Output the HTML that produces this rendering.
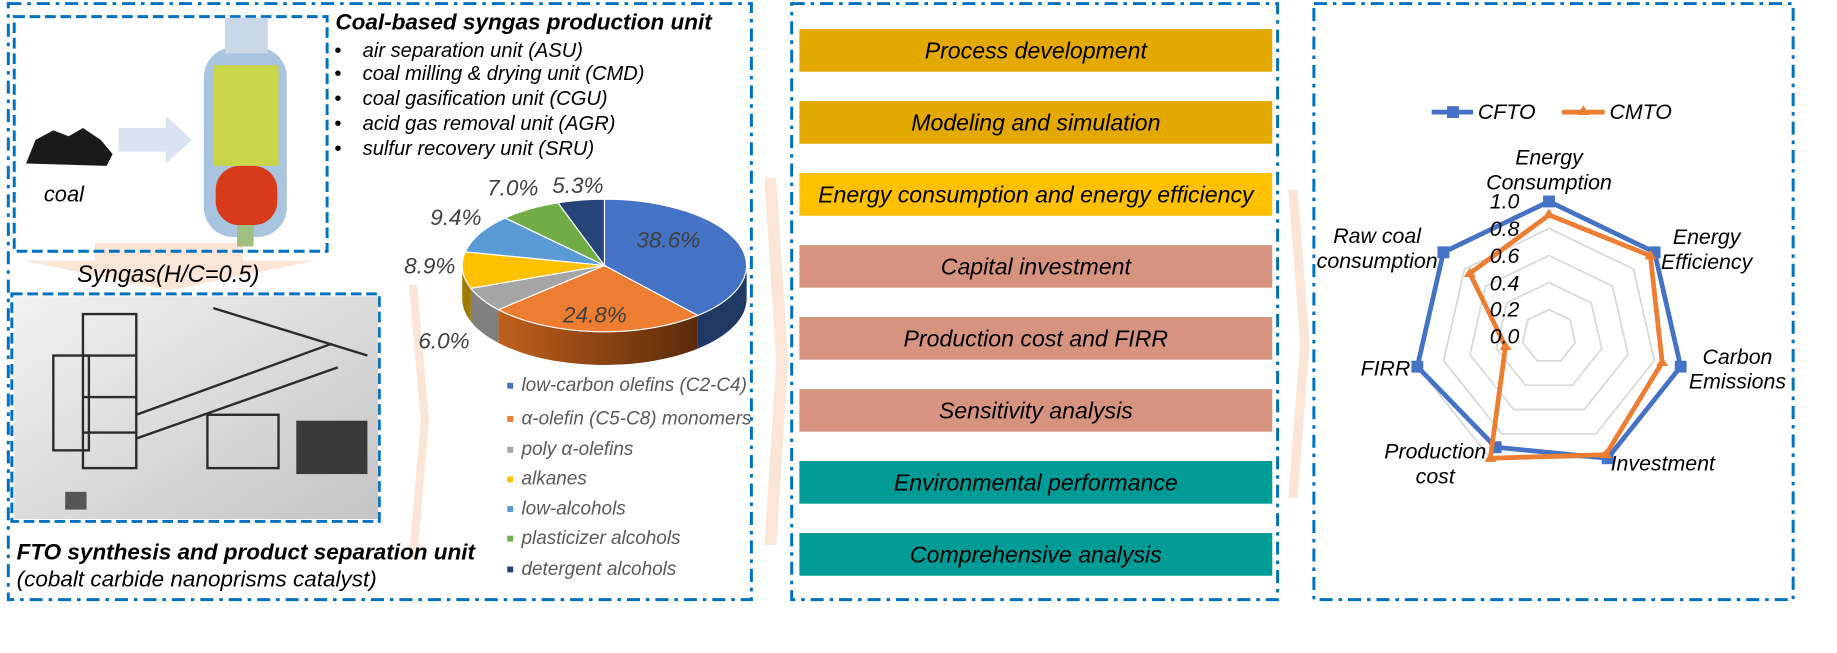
<!DOCTYPE html>
<html><head><meta charset="utf-8"><style>
html,body{margin:0;padding:0;background:#fff;overflow:hidden}
#wrap{width:1550px;height:551px;transform:scale(1.18516,1.1851);transform-origin:0 0;position:relative}
svg text{font-family:"Liberation Sans",sans-serif;font-style:italic}
</style></head><body><div id="wrap">
<svg width="1550" height="551" viewBox="0 0 1550 551" xmlns="http://www.w3.org/2000/svg">
<defs>
<linearGradient id="pg" x1="0" y1="0" x2="1" y2="1"><stop offset="0" stop-color="#f2f2f2"/><stop offset="1" stop-color="#c4c4c4"/></linearGradient>
<linearGradient id="og" x1="0" x2="1"><stop offset="0" stop-color="#c0601c"/><stop offset="1" stop-color="#5a2a0a"/></linearGradient>
</defs>
<!-- peach arrows -->
<polygon points="345,240 352,240 362,355 352,470 345,470 355,355" fill="#fbe5d6"/>
<polygon points="645,150 655,150 665,305 655,460 645,460 655,305" fill="#fbe5d6"/>
<polygon points="1087,160 1095,160 1105,290 1095,420 1087,420 1097,290" fill="#fbe5d6"/>
<polygon points="80,205 205,205 205,220 265,220 143,245 20,220 80,220" fill="#fbe5d6"/>
<!-- panel borders -->
<g fill="none" stroke="#0070C0" stroke-width="2.5" stroke-dasharray="11 5 3 5">
<rect x="7" y="3" width="627" height="503"/>
<rect x="668" y="3" width="410" height="503"/>
<rect x="1108.6" y="3" width="404.4" height="503"/>
</g>
<g fill="none" stroke="#0070C0" stroke-width="2.5" stroke-dasharray="9 4">
<rect x="12" y="14" width="264" height="198"/>
<rect x="10" y="248" width="310" height="192"/>
</g>
<!-- coal + gasifier -->
<path d="M22,138 L30,118 L45,110 L58,115 L70,108 L85,118 L95,130 L90,140 Z" fill="#1a1a1a"/>
<polygon points="100,108 140,108 140,98 162,118 140,138 140,128 100,128" fill="#dae3f3"/>
<text x="37" y="170" font-size="18.5">coal</text>
<rect x="172" y="40" width="70" height="160" rx="25" fill="#a9c4df"/>
<rect x="190" y="15" width="36" height="30" fill="#c8d8e8"/>
<rect x="180" y="55" width="55" height="85" fill="#c9d64a"/>
<rect x="182" y="140" width="52" height="50" rx="20" fill="#d83a1a"/>
<rect x="200" y="190" width="14" height="18" fill="#9fbf80"/>
<!-- plant -->
<rect x="12" y="250" width="307" height="188" fill="url(#pg)"/>
<g stroke="#2b2b2b" stroke-width="2" fill="none">
<rect x="70" y="265" width="45" height="130"/><line x1="70" y1="300" x2="115" y2="300"/><line x1="70" y1="335" x2="115" y2="335"/><line x1="70" y1="365" x2="115" y2="365"/>
<rect x="45" y="300" width="30" height="80"/>
<line x1="115" y1="350" x2="280" y2="290"/><line x1="115" y1="370" x2="285" y2="310"/>
<line x1="180" y1="260" x2="310" y2="300"/>
<rect x="175" y="350" width="60" height="45"/>
</g>
<rect x="250" y="355" width="60" height="45" fill="#3a3a3a"/>
<rect x="55" y="415" width="18" height="15" fill="#555"/>
<!-- texts panel1 -->
<text x="283" y="25" font-size="19" font-weight="bold">Coal-based syngas production unit</text>
<g font-size="17">
<text x="282" y="48" font-style="normal">•</text><text x="306" y="48">air separation unit (ASU)</text>
<text x="282" y="67.5" font-style="normal">•</text><text x="306" y="67.5">coal milling &amp; drying unit (CMD)</text>
<text x="282" y="88.6" font-style="normal">•</text><text x="306" y="88.6">coal gasification unit (CGU)</text>
<text x="282" y="109.7" font-style="normal">•</text><text x="306" y="109.7">acid gas removal unit (AGR)</text>
<text x="282" y="130.8" font-style="normal">•</text><text x="306" y="130.8">sulfur recovery unit (SRU)</text>
</g>
<text x="65" y="238" font-size="20">Syngas(H/C=0.5)</text>
<text x="14" y="472" font-size="19" font-weight="bold">FTO synthesis and product separation unit</text>
<text x="14" y="495" font-size="19">(cobalt carbide nanoprisms catalyst)</text>
<!-- pie -->
<path d="M630,224 A120,56 0 0 1 588.8,266.2 L588.8,294.2 A120,56 0 0 0 630,252 Z" fill="#1f3864"/>
<path d="M588.8,266.2 A120,56 0 0 1 420.5,261.3 L420.5,289.3 A120,56 0 0 0 588.8,294.2 Z" fill="url(#og)"/>
<path d="M420.5,261.3 A120,56 0 0 1 397.3,243.3 L397.3,271.3 A120,56 0 0 0 420.5,289.3 Z" fill="#7f7f7f"/>
<path d="M397.3,243.3 A120,56 0 0 1 390,224 L390,252 A120,56 0 0 0 397.3,271.3 Z" fill="#a07a00"/>
<g stroke="#fff" stroke-width="1">
<path d="M510,224 L510,168 A120,56 0 0 1 588.8,266.2 Z" fill="#4472c4"/>
<path d="M510,224 L588.8,266.2 A120,56 0 0 1 420.5,261.3 Z" fill="#ed7d31"/>
<path d="M510,224 L420.5,261.3 A120,56 0 0 1 397.3,243.3 Z" fill="#a5a5a5"/>
<path d="M510,224 L397.3,243.3 A120,56 0 0 1 392.6,212.5 Z" fill="#ffc000"/>
<path d="M510,224 L392.6,212.5 A120,56 0 0 1 426.2,183.9 Z" fill="#5b9bd5"/>
<path d="M510,224 L426.2,183.9 A120,56 0 0 1 470.8,171.1 Z" fill="#70ad47"/>
<path d="M510,224 L470.8,171.1 A120,56 0 0 1 510,168 Z" fill="#264478"/>
</g>
<g font-size="19" fill="#404040">
<text x="537" y="209">38.6%</text><text x="475" y="272">24.8%</text>
<text x="353" y="294">6.0%</text><text x="341" y="231">8.9%</text>
<text x="363" y="190">9.4%</text><text x="411" y="165">7.0%</text><text x="466" y="163">5.3%</text>
</g>
<g font-size="16" fill="#595959">
<rect x="428" y="323" width="5" height="5" fill="#4472c4"/><text x="440" y="330">low-carbon olefins (C2-C4)</text>
<rect x="428" y="351" width="5" height="5" fill="#ed7d31"/><text x="440" y="358">α-olefin (C5-C8) monomers</text>
<rect x="428" y="377" width="5" height="5" fill="#a5a5a5"/><text x="440" y="384">poly α-olefins</text>
<rect x="428" y="402" width="5" height="5" fill="#ffc000"/><text x="440" y="409">alkanes</text>
<rect x="428" y="427" width="5" height="5" fill="#5b9bd5"/><text x="440" y="434">low-alcohols</text>
<rect x="428" y="452" width="5" height="5" fill="#70ad47"/><text x="440" y="459">plasticizer alcohols</text>
<rect x="428" y="478" width="5" height="5" fill="#264478"/><text x="440" y="485">detergent alcohols</text>
</g>
<!-- panel2 boxes -->
<g>
<rect x="674.5" y="24.5" width="399" height="36" fill="#e3a900"/>
<rect x="674.5" y="85.3" width="399" height="36" fill="#e3a900"/>
<rect x="674.5" y="146" width="399" height="36" fill="#ffc000"/>
<rect x="674.5" y="206.8" width="399" height="36" fill="#d69480"/>
<rect x="674.5" y="267.5" width="399" height="36" fill="#d69480"/>
<rect x="674.5" y="328.3" width="399" height="36" fill="#d69480"/>
<rect x="674.5" y="389" width="399" height="36" fill="#009b95"/>
<rect x="674.5" y="449.8" width="399" height="36" fill="#009b95"/>
</g>
<g font-size="19.5" text-anchor="middle">
<text x="874" y="49.5">Process development</text>
<text x="874" y="110.3">Modeling and simulation</text>
<text x="874" y="171">Energy consumption and energy efficiency</text>
<text x="874" y="231.8">Capital investment</text>
<text x="874" y="292.5">Production cost and FIRR</text>
<text x="874" y="353.3">Sensitivity analysis</text>
<text x="874" y="414">Environmental performance</text>
<text x="874" y="474.8">Comprehensive analysis</text>
</g>
<!-- radar -->
<g fill="none" stroke="#d9d9d9" stroke-width="1.5">
<polygon points="1307,261.2 1324.8,269.8 1329.2,289.1 1316.9,304.5 1297.1,304.5 1284.8,289.1 1289.2,269.8"/>
<polygon points="1307,238.4 1342.6,255.6 1351.5,294.1 1326.8,325.1 1287.2,325.1 1262.5,294.1 1271.4,255.6"/>
<polygon points="1307,215.6 1360.5,241.4 1373.7,299.2 1336.7,345.6 1277.3,345.6 1240.3,299.2 1253.5,241.4"/>
<polygon points="1307,192.8 1378.3,227.1 1395.9,304.3 1346.6,366.2 1267.4,366.2 1218.1,304.3 1235.7,227.1"/>
<polygon points="1307,170 1396.1,212.9 1418.1,309.4 1356.5,386.7 1257.5,386.7 1195.9,309.4 1217.9,212.9"/>
</g>
<polyline fill="none" stroke="#4472c4" stroke-width="4" points="1307,170 1396.1,212.9 1418.1,309.4 1356.5,386.7 1262,377.4 1195.9,309.4 1217.9,212.9 1307,170"/>
<g fill="#4472c4"><rect x="1302" y="165" width="10" height="10"/><rect x="1391.1" y="207.9" width="10" height="10"/><rect x="1413.1" y="304.4" width="10" height="10"/><rect x="1351.5" y="381.7" width="10" height="10"/><rect x="1257" y="372.4" width="10" height="10"/><rect x="1190.9" y="304.4" width="10" height="10"/><rect x="1212.9" y="207.9" width="10" height="10"/></g>
<polyline fill="none" stroke="#ed7d31" stroke-width="4" points="1307,181.4 1392.5,215.8 1402.5,305.8 1355,383.6 1257.5,386.7 1270.3,292.4 1240.2,230.7 1307,181.4"/>
<g fill="#ed7d31"><path d="M1307,176l5,8h-10z"/><path d="M1392.5,210.8l5,8h-10z"/><path d="M1402.5,300.8l5,8h-10z"/><path d="M1355,378.6l5,8h-10z"/><path d="M1257.5,381.7l5,8h-10z"/><path d="M1270.3,287.4l5,8h-10z"/><path d="M1240.2,225.7l5,8h-10z"/></g>
<g font-size="18" text-anchor="end">
<text x="1282" y="176">1.0</text><text x="1282" y="199">0.8</text><text x="1282" y="222">0.6</text>
<text x="1282" y="245">0.4</text><text x="1282" y="267">0.2</text><text x="1282" y="290">0.0</text>
</g>
<g font-size="18" text-anchor="middle">
<text x="1307" y="139">Energy</text><text x="1307" y="160">Consumption</text>
<text x="1440" y="206">Energy</text><text x="1440" y="227">Efficiency</text>
<text x="1466" y="307">Carbon</text><text x="1466" y="328">Emissions</text>
<text x="1211" y="387">Production</text><text x="1211" y="408">cost</text>
<text x="1162" y="205">Raw coal</text><text x="1162" y="226">consumption</text>
</g>
<text x="1359" y="397" font-size="18">Investment</text>
<text x="1190" y="317" font-size="18" text-anchor="end">FIRR</text>
<line x1="1208" y1="94.6" x2="1243" y2="94.6" stroke="#4472c4" stroke-width="4"/><rect x="1221" y="89.6" width="10" height="10" fill="#4472c4"/>
<text x="1247" y="100.6" font-size="18">CFTO</text>
<line x1="1318" y1="94.6" x2="1354" y2="94.6" stroke="#ed7d31" stroke-width="4"/><path d="M1336,89l5,8h-10z" fill="#ed7d31"/>
<text x="1358" y="100.6" font-size="18">CMTO</text>
</svg>
</div></body></html>
